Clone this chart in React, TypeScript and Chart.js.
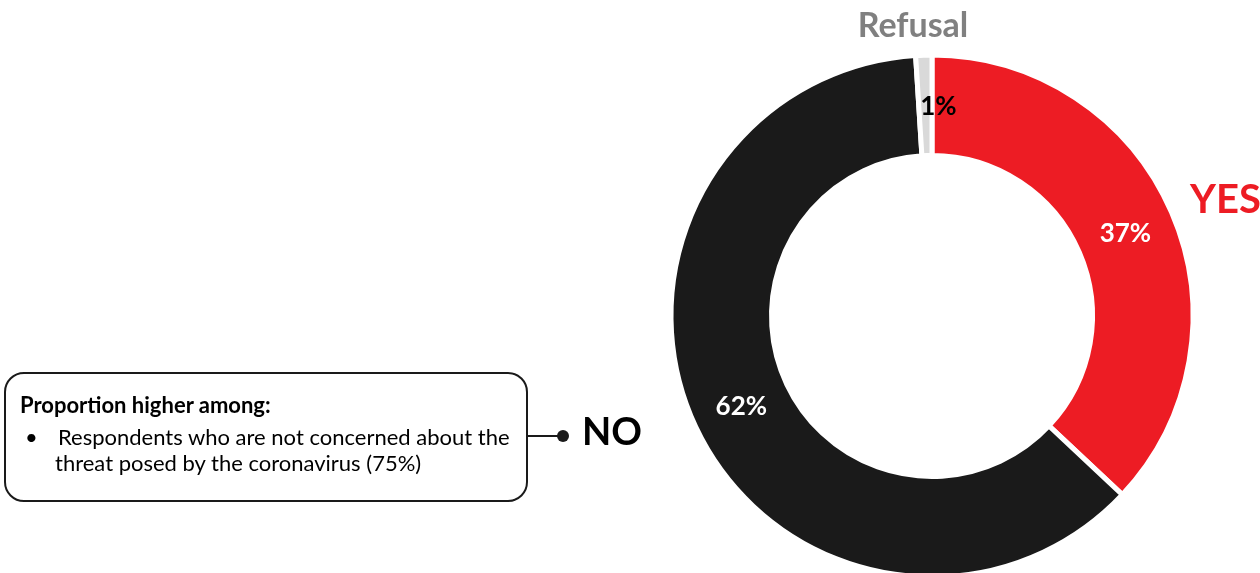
import React, { useEffect, useRef } from "react";
import { Chart, registerables } from "chart.js";

Chart.register(...registerables);

const categories = ["YES", "NO", "Refusal"];
const values = [37, 62, 1];
const valueLabels = ["37%", "62%", "1%"];
const sliceColors = ["#ED1C24", "#1A1A1A", "#D9D9D9"];
const labelColors = ["#FFFFFF", "#FFFFFF", "#000000"];
const labelShiftX = [0, 0, 13];

const FONT = "Lato, 'Open Sans', sans-serif";

const labelPlugin = {
  id: "sliceLabels",
  afterDatasetsDraw(chart: any) {
    const ctx = chart.ctx;
    const meta = chart.getDatasetMeta(0);
    ctx.save();
    ctx.font = `bold 26px ${FONT}`;
    ctx.textAlign = "center";
    ctx.textBaseline = "middle";
    meta.data.forEach((arc: any, i: number) => {
      const p = arc.tooltipPosition();
      ctx.fillStyle = labelColors[i];
      ctx.fillText(valueLabels[i], p.x + labelShiftX[i], p.y + 1);
    });
    ctx.restore();
  },
};

export default function App() {
  const ref = useRef<HTMLCanvasElement>(null);
  useEffect(() => {
    if (!ref.current) return;
    const chart = new Chart(ref.current, {
      type: "doughnut",
      data: {
        labels: categories,
        datasets: [
          {
            data: values,
            backgroundColor: sliceColors,
            borderColor: "#FFFFFF",
            borderWidth: 5,
            hoverOffset: 0,
          },
        ],
      },
      options: {
        responsive: false,
        animation: false,
        cutout: 160.5,
        layout: { padding: { left: 668.5, top: 52.5, right: 64.5, bottom: 60.5 } },
        plugins: { legend: { display: false }, tooltip: { enabled: false } },
        events: [],
      },
      plugins: [labelPlugin],
    });
    return () => chart.destroy();
  }, []);

  const abs = (s: React.CSSProperties): React.CSSProperties => ({
    position: "absolute",
    lineHeight: 1,
    whiteSpace: "nowrap",
    fontFamily: FONT,
    margin: 0,
    ...s,
  });

  return (
    <div style={{ position: "fixed", left: 0, top: 0, width: 1260, height: 573, overflow: "hidden", background: "#fff" }}>
      <canvas ref={ref} width={1260} height={640} style={{ position: "absolute", left: 0, top: 0 }} />
      <div style={abs({ left: 813, width: 200, textAlign: "center", top: 6.8, fontSize: 34, fontWeight: 700, color: "#808080" })}>Refusal</div>
      <div style={abs({ left: 1190, top: 177.5, fontSize: 40, fontWeight: 700, color: "#ED1C24" })}>YES</div>
      <div style={abs({ left: 582, top: 411.3, fontSize: 38, fontWeight: 700, color: "#000" })}>NO</div>
      <div
        style={{
          position: "absolute",
          left: 4,
          top: 372,
          width: 524,
          height: 130,
          border: "2px solid #1A1A1A",
          borderRadius: 20,
          boxSizing: "border-box",
        }}
      />
      <div style={{ position: "absolute", left: 528, top: 435, width: 32, height: 2, background: "#1A1A1A" }} />
      <div style={{ position: "absolute", left: 557, top: 430, width: 12, height: 12, borderRadius: 6, background: "#1A1A1A" }} />
      <div style={abs({ left: 20, top: 393.5, fontSize: 22, fontWeight: 700, color: "#000" })}>Proportion higher among:</div>
      <div style={abs({ left: 25, top: 425.5, fontSize: 22, color: "#000" })}>•</div>
      <div style={abs({ left: 58, top: 425.5, fontSize: 22, color: "#000" })}>Respondents who are not concerned about the</div>
      <div style={abs({ left: 55, top: 451.5, fontSize: 22, color: "#000" })}>threat posed by the coronavirus (75%)</div>
    </div>
  );
}
